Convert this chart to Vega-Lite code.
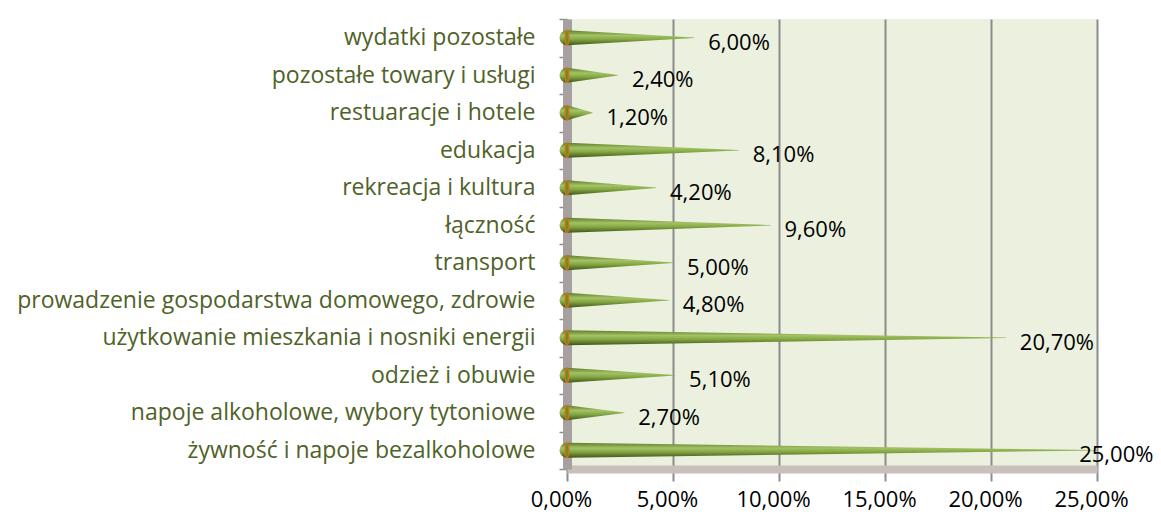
{
  "$schema": "https://vega.github.io/schema/vega-lite/v6.json",
  "autosize": "none",
  "width": 530,
  "height": 450,
  "padding": {"left": 567, "top": 19, "right": 64, "bottom": 46},
  "background": "white",
  "config": {
    "locale": {"number": {"decimal": ",", "thousands": " ", "grouping": [3], "currency": ["", " zł"]}},
    "font": "Open Sans",
    "view": {"fill": "#ebf1de", "stroke": null}
  },
  "data": {
    "values": [
      {"cat": "wydatki pozostałe", "value": 0.06},
      {"cat": "pozostałe towary i usługi", "value": 0.024},
      {"cat": "restuaracje i hotele", "value": 0.012},
      {"cat": "edukacja", "value": 0.081},
      {"cat": "rekreacja i kultura", "value": 0.042},
      {"cat": "łączność", "value": 0.096},
      {"cat": "transport", "value": 0.05},
      {"cat": "prowadzenie gospodarstwa domowego, zdrowie", "value": 0.048},
      {"cat": "użytkowanie mieszkania i nosniki energii", "value": 0.207},
      {"cat": "odzież i obuwie", "value": 0.051},
      {"cat": "napoje alkoholowe, wybory tytoniowe ", "value": 0.027},
      {"cat": "żywność i  napoje bezalkoholowe", "value": 0.25}
    ]
  },
  "encoding": {
    "y": {
      "field": "cat", "type": "nominal", "sort": null,
      "scale": {"paddingInner": 0, "paddingOuter": 0},
      "axis": {
        "title": null, "labelFontSize": 23, "labelColor": "#4f6228", "labelPadding": 24,
        "labelLimit": 600, "domainColor": "#a6a0a0", "domainWidth": 9, "tickColor": "#8c8c8c",
        "tickWidth": 1.5, "tickSize": 8, "tickBand": "extent", "grid": false, "labelFont": "Open Sans"
      }
    }
  },
  "layer": [
    {
      "transform": [
        {"calculate": "0", "as": "zero"},
        {"fold": ["zero", "value"], "as": ["end", "pos"]}
      ],
      "mark": {
        "type": "trail",
        "color": {
          "gradient": "linear", "x1": 0, "y1": 0, "x2": 0, "y2": 1,
          "stops": [
            {"offset": 0, "color": "#5e7d25"},
            {"offset": 0.35, "color": "#a3c266"},
            {"offset": 0.6, "color": "#86a844"},
            {"offset": 1, "color": "#3f5518"}
          ]
        }
      },
      "encoding": {
        "x": {
          "field": "pos", "type": "quantitative",
          "scale": {"domain": [0, 0.25], "nice": false},
          "axis": {
            "title": null, "format": ".2%", "values": [0, 0.05, 0.1, 0.15, 0.2, 0.25],
            "labelFontSize": 22, "labelColor": "#000000", "labelPadding": 8, "labelFlush": false, "labelOffset": -6,
            "grid": true, "gridColor": "#8c8c8c", "gridWidth": 2,
            "domainColor": "#c9bfbb", "domainWidth": 8, "tickColor": "#8c8c8c", "tickWidth": 2, "tickSize": 12
          }
        },
        "size": {
          "field": "end", "type": "ordinal",
          "scale": {"domain": ["zero", "value"], "range": [15, 0.5]},
          "legend": null
        },
        "detail": {"field": "cat"}
      }
    },
    {
      "mark": {
        "type": "point",
        "shape": "M 0 -1 A 0.25 1 0 1 1 0 1 A 0.25 1 0 1 1 0 -1 Z",
        "size": 225, "filled": true, "fill": "#6b8c2e", "stroke": "#e46c0a", "strokeWidth": 1.2, "opacity": 1
      },
      "encoding": {
        "x": {"datum": 0, "type": "quantitative", "scale": {"domain": [0, 0.25], "nice": false}, "axis": null}
      }
    },
    {
      "mark": {"type": "text", "align": "left", "baseline": "middle", "dx": 14, "dy": 5, "fontSize": 22, "color": "#000000"},
      "encoding": {
        "x": {
          "field": "value", "type": "quantitative",
          "scale": {"domain": [0, 0.235], "range": [0, 498.2], "clamp": true, "nice": false},
          "axis": null
        },
        "text": {"field": "value", "type": "quantitative", "format": ".2%"}
      }
    }
  ],
  "resolve": {"scale": {"x": "independent"}}
}
